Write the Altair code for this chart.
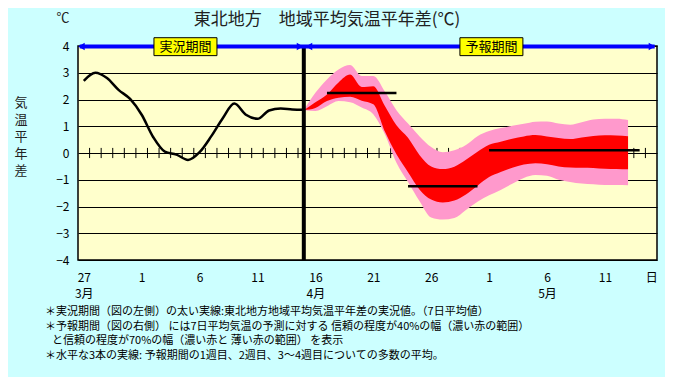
import altair as alt
import pandas as pd

FONT = "Noto Sans CJK JP"

# ---- observed 7-day mean anomaly (day index: 0 = 3/27) ----
obs_day = list(range(0, 20))
obs_val = [2.70, 3.00, 2.80, 2.36, 2.02, 1.43, 0.59, 0.05, -0.06, -0.26,
           0.03, 0.62, 1.30, 1.85, 1.43, 1.28, 1.59, 1.66, 1.63, 1.62]

# ---- forecast bands ----
fc_day = list(range(19, 48))
pink_hi = [1.60, 2.25, 2.75, 3.12, 3.29, 2.88, 2.88, 2.30, 1.60, 1.10,
           0.62, 0.22, 0.03, 0.10, 0.30, 0.63, 0.82, 0.93, 1.02, 1.09,
           1.17, 1.18, 1.10, 1.06, 1.15, 1.25, 1.28, 1.28, 1.23]
red_hi = [1.60, 1.90, 2.19, 2.64, 2.93, 2.47, 2.50, 1.76, 1.04, 0.57,
          -0.08, -0.50, -0.60, -0.51, -0.25, 0.05, 0.31, 0.42, 0.53, 0.62,
          0.67, 0.62, 0.56, 0.52, 0.58, 0.64, 0.66, 0.65, 0.63]
red_lo = [1.60, 1.68, 1.94, 2.07, 2.10, 1.95, 1.82, 0.80, -0.05, -0.72,
          -1.37, -1.74, -1.85, -1.78, -1.55, -1.22, -0.90, -0.71, -0.55, -0.43,
          -0.38, -0.42, -0.50, -0.54, -0.55, -0.56, -0.59, -0.60, -0.61]
pink_lo = [1.60, 1.57, 1.75, 1.94, 1.90, 1.70, 1.45, 0.70, -0.36, -1.08,
           -1.80, -2.41, -2.49, -2.43, -2.13, -1.82, -1.58, -1.38, -1.15, -0.93,
           -0.82, -0.85, -1.00, -1.08, -1.14, -1.17, -1.20, -1.20, -1.21]

# ---- weekly means (start day, end day, value) ----
mean_start = [21, 28, 35]
mean_end = [27, 34, 48]
mean_val = [2.24, -1.24, 0.10]

# ---- axis labels ----
x_tick_vals = [0, 5, 10, 15, 20, 25, 30, 35, 40, 45, 49]
x_day_labels = ["27", "1", "6", "11", "16", "21", "26", "1", "6", "11", "日"]
x_month_labels = {0: "3月", 20: "4月", 40: "5月"}
y_tick_vals = [-4, -3, -2, -1, 0, 1, 2, 3, 4]
zero_ticks = [d + 0.5 for d in range(0, 49)]

period_names = ["実況期間", "予報期間"]
period_centers = [8.78, 35.2]
arrow_days = [-0.2, 18.67, 19.45, 49.06]
arrow_shapes = ["triangle-left", "triangle-right", "triangle-left", "triangle-right"]

title_text = "東北地方　地域平均気温平年差(℃)"
ytitle_chars = ["気", "温", "平", "年", "差"]
notes = [
    "＊実況期間（図の左側）の太い実線:東北地方地域平均気温平年差の実況値。（7日平均値）",
    "＊予報期間（図の右側） には7日平均気温の予測に対する 信頼の程度が40%の幅（濃い赤の範囲）",
    "と信頼の程度が70%の幅（濃い赤と 薄い赤の範囲） を表示",
    "＊水平な3本の実線: 予報期間の1週目、2週目、3～4週目についての多数の平均。",
]

# ---- build label expression ----
parts = []
for v, lab in zip(x_tick_vals, x_day_labels):
    if v in x_month_labels:
        parts.append(f"datum.value == {v} ? ['{lab}', '{x_month_labels[v]}']")
    else:
        parts.append(f"datum.value == {v} ? '{lab}'")
label_expr = " : ".join(parts) + " : ''"

XS = alt.Scale(domain=[-0.5, 49.5], nice=False, zero=False)
YS = alt.Scale(domain=[-4, 4], nice=False, zero=False)

x_axis = alt.Axis(values=x_tick_vals, labelExpr=label_expr, ticks=False,
                  domain=False, grid=False, labelPadding=12, labelFontSize=12,
                  labelFont=FONT, labelColor="black", labelLineHeight=16,
                  labelFlush=False, labelOverlap=False, title=None)
y_axis = alt.Axis(values=y_tick_vals, grid=True, gridColor="black",
                  gridWidth=1, gridOpacity=1, ticks=False, domain=False,
                  labelPadding=9, labelFontSize=12, labelFont=FONT,
                  labelColor="black", format="d", title=None)


def X(f):
    return alt.X(f, type="quantitative", scale=XS, axis=x_axis)


def Y(f):
    return alt.Y(f, type="quantitative", scale=YS, axis=y_axis)


obs_df = pd.DataFrame({"d": obs_day, "v": obs_val})
fc_df = pd.DataFrame({"d": fc_day, "ph": pink_hi, "pl": pink_lo,
                      "rh": red_hi, "rl": red_lo})
mean_df = pd.DataFrame({"a": mean_start, "b": mean_end, "v": mean_val})
tick_df = pd.DataFrame({"d": zero_ticks, "y0": -0.19, "y1": 0.19})

ticks = alt.Chart(tick_df).mark_rule(color="black", strokeWidth=1).encode(
    x=X("d"), y=Y("y0"), y2="y1")

pink = alt.Chart(fc_df).mark_area(color="#FF99CC", opacity=1,
                                  interpolate="monotone").encode(
    x=X("d"), y=Y("ph"), y2="pl")
red = alt.Chart(fc_df).mark_area(color="#FF0000", opacity=1,
                                 interpolate="monotone").encode(
    x=X("d"), y=Y("rh"), y2="rl")

obs_line = alt.Chart(obs_df).mark_line(color="black", strokeWidth=2.5,
                                       interpolate="monotone").encode(
    x=X("d"), y=Y("v"))

means = alt.Chart(mean_df).mark_rule(color="black", strokeWidth=2.5).encode(
    x=X("a"), x2="b", y=Y("v"))

vline = alt.Chart(pd.DataFrame({"d": [19], "y0": [-4], "y1": [4]})).mark_rule(
    color="black", strokeWidth=4).encode(x=X("d"), y=Y("y0"), y2="y1")

blue = alt.Chart(pd.DataFrame({"a": [-0.35], "b": [49.3], "y": [3.98]})).mark_rule(
    color="#0000FF", strokeWidth=4).encode(x=X("a"), x2="b", y=Y("y"))

arrows = alt.Chart(pd.DataFrame({"d": arrow_days, "s": arrow_shapes,
                                 "y": 3.98})).mark_point(
    filled=True, color="#0000FF", opacity=1, size=55).encode(
    x=X("d"), y=Y("y"),
    shape=alt.Shape("s:N", scale=None, legend=None))

box_df = pd.DataFrame({"name": period_names, "c": period_centers})
boxes = alt.Chart(box_df).transform_calculate(
    a="datum.c - 2.72", b="datum.c + 2.72", y0="3.64", y1="4.31"
).mark_rect(fill="#FFFF00", stroke="black", strokeWidth=1).encode(
    x=X("a"), x2="b:Q", y=Y("y0"), y2="y1:Q")
box_text = alt.Chart(box_df).transform_calculate(y="3.97").mark_text(
    font=FONT, fontSize=13, color="black", baseline="middle").encode(
    x=X("c"), y=Y("y"), text="name:N")

title = alt.Chart(pd.DataFrame({"t": [title_text]})).mark_text(
    font=FONT, fontSize=17, color="#222222", align="center", baseline="middle"
).encode(x=alt.value(249), y=alt.value(-26), text="t:N")

unit = alt.Chart(pd.DataFrame({"t": ["℃"]})).mark_text(
    font=FONT, fontSize=13, color="#222222", align="center", baseline="middle"
).encode(x=alt.value(-15), y=alt.value(-28), text="t:N")

yt_df = pd.DataFrame({"t": ytitle_chars, "py": [57, 74, 91, 108, 125], "px": -57})
ytitle = alt.Chart(yt_df).mark_text(
    font=FONT, fontSize=13, color="#222222", align="center", baseline="middle"
).encode(x=alt.X("px:Q", scale=None, axis=None),
         y=alt.Y("py:Q", scale=None, axis=None), text="t:N")

note_df = pd.DataFrame({"t": notes, "px": [-33, -33, -26, -33],
                        "py": [266, 281, 295, 310]})
note_layer = alt.Chart(note_df).mark_text(
    font=FONT, fontSize=11, color="black", align="left", baseline="middle"
).encode(x=alt.X("px:Q", scale=None, axis=None),
         y=alt.Y("py:Q", scale=None, axis=None), text="t:N")

chart = alt.layer(
    ticks, pink, red, obs_line, means, vline, blue, arrows, boxes,
    box_text, title, unit, ytitle, note_layer
).resolve_scale(x="shared", y="shared").properties(
    width=579, height=214,
    autosize=alt.AutoSizeParams(type="none"),
    padding={"left": 70, "top": 38, "right": 8, "bottom": 117},
    background="#CCFFFF",
).configure_view(
    fill="#FFFFCC", stroke="black", strokeWidth=1.5
)

chart.save("out.html", embed_options={"renderer": "svg", "actions": False})
